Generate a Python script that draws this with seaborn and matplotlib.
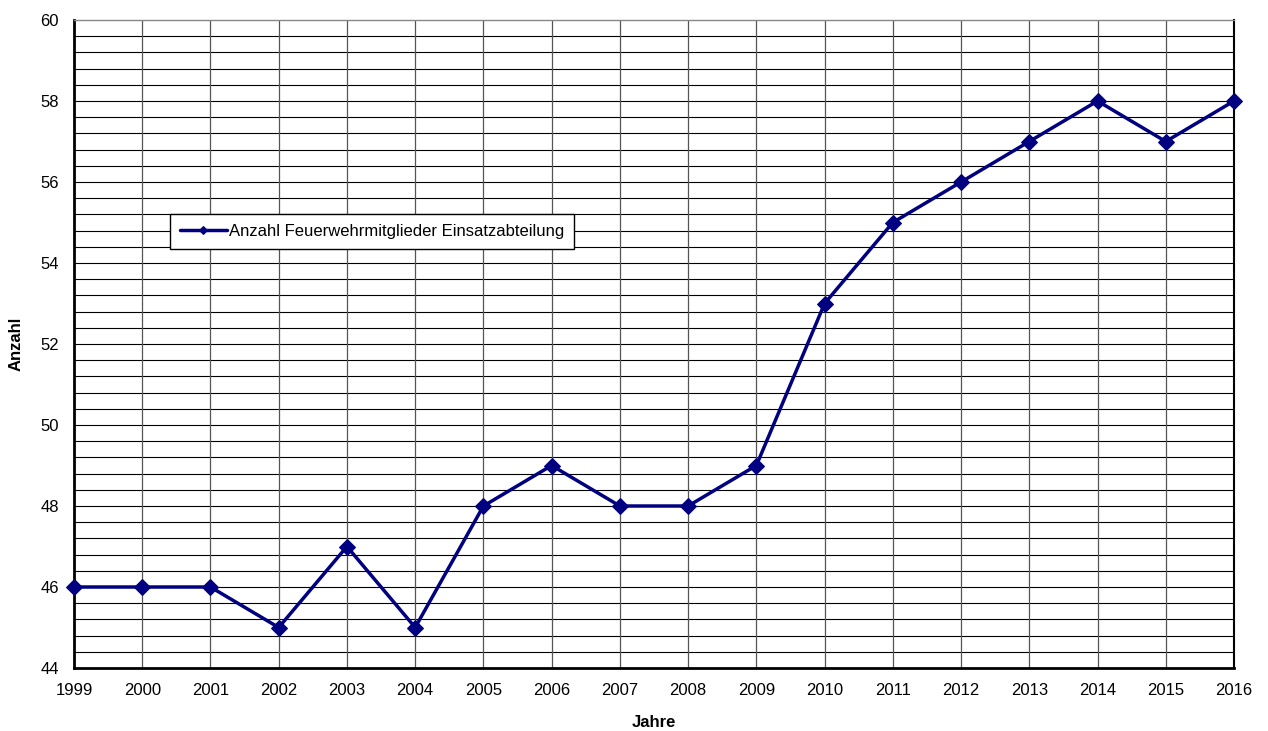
import matplotlib
matplotlib.use("Agg")
import matplotlib.pyplot as plt
import seaborn as sns
import numpy as np
import pandas as pd

years = [1999, 2000, 2001, 2002, 2003, 2004, 2005, 2006, 2007, 2008,
         2009, 2010, 2011, 2012, 2013, 2014, 2015, 2016]
members = [46, 46, 46, 45, 47, 45, 48, 49, 48, 48, 49, 53, 55, 56, 57, 58, 57, 58]
series_name = "Anzahl Feuerwehrmitglieder Einsatzabteilung"

sns.set_style("white")
plt.rcParams['font.family'] = ['Liberation Sans', 'DejaVu Sans']
plt.rcParams['text.color'] = 'black'
plt.rcParams['axes.labelcolor'] = 'black'
plt.rcParams['xtick.color'] = 'black'
plt.rcParams['ytick.color'] = 'black'

df = pd.DataFrame({"Jahre": years, "Anzahl": members})

fig = plt.figure(figsize=(12.68, 7.31), dpi=100)
ax = fig.add_axes([74/1268, 1-668/731, 1160/1268, 648/731])

# grid
for y in np.arange(44.4, 60, 0.4):
    ax.axhline(y, color="black", lw=0.8, zorder=0)
for x in years[1:-1]:
    ax.axvline(x, color="#555555", lw=0.9, zorder=0)

sns.lineplot(data=df, x="Jahre", y="Anzahl", ax=ax, color="#000080", lw=2.5,
             marker="D", markersize=8, markeredgecolor="#000080",
             label=series_name, zorder=3, clip_on=False)

ax.set_xlim(1999, 2016)
ax.set_ylim(44, 60)
ax.set_xticks(years)
ax.set_xticklabels([str(y) for y in years], fontsize=12)
ax.set_yticks(np.arange(44, 61, 2))
ax.set_yticklabels([str(v) for v in range(44, 61, 2)], fontsize=12)
ax.tick_params(axis="y", direction="out", length=5, width=1.2, color="black", pad=6)
ax.tick_params(axis="x", direction="out", length=0, pad=11)
ax.set_xlabel("Jahre", fontsize=12, fontweight="bold", labelpad=12)
ax.set_ylabel("Anzahl", fontsize=12, fontweight="bold", labelpad=12)

for s in ["left", "bottom"]:
    ax.spines[s].set_color("black")
    ax.spines[s].set_linewidth(2)
ax.spines["right"].set_color("black")
ax.spines["right"].set_linewidth(1.5)
ax.spines["top"].set_color("#888888")
ax.spines["top"].set_linewidth(1)

leg = ax.legend(loc="upper left", bbox_to_anchor=(96/1160, (668-214)/648),
                frameon=True, fancybox=False, fontsize=12, handlelength=2.8,
                handletextpad=0.15, borderpad=0.6, borderaxespad=0,
                markerscale=0.5)
leg.get_frame().set_edgecolor("black")
leg.get_frame().set_linewidth(1)
leg.get_frame().set_alpha(1)

fig.savefig("out.png", dpi=100)
